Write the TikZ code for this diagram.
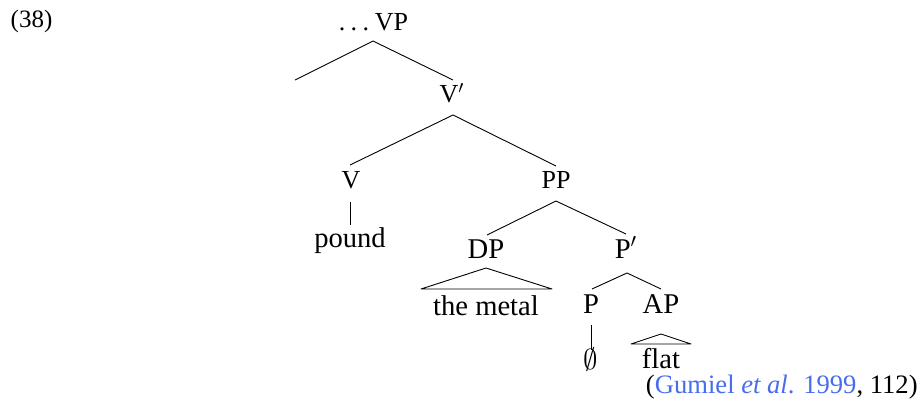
\documentclass[tikz,border=0pt]{standalone}
\usepackage{fontspec}
\setmainfont{Liberation Serif}
\definecolor{citeblue}{RGB}{72,108,238}
\newcommand\tmsfont{\fontsize{13}{15}\selectfont}
\newcommand\palfont{\fontsize{14.3}{16}\selectfont}
\newcommand\citefont{\fontsize{13.3}{15}\selectfont}
\begin{document}
\begin{tikzpicture}[x=0.5pt,y=-0.5pt,
  tms/.style={inner sep=0pt,anchor=base,font=\tmsfont},
  pal/.style={inner sep=0pt,anchor=base,font=\palfont},
  edge/.style={line width=0.45pt,line join=round}]
\useasboundingbox (0,0) rectangle (920,407);
% labels
\node[tms,font=\fontsize{12.5}{14}\selectfont] (ex) at (31.5,27) {(38)};
\node[tms] (VP) at (373.5,30) {.\kern2.7pt.\kern2.7pt.\kern2.9pt VP};
\node[tms] (Vbar) at (452,102) {V$'$};
\node[tms] (V) at (351,188) {V};
\node[tms] (PP) at (556,188) {PP};
\node[pal] (pound) at (350,247) {pound};
\node[pal] (DP) at (486,258) {DP};
\node[pal] (Pbar) at (626,258) {P$'$};
\node[pal] (metal) at (486,315) {the metal};
\node[pal] (P) at (591,313) {P};
\node[pal] (AP) at (661,313) {AP};
\node[pal] (empty) at (591,369) {$\emptyset$};
\node[pal] (flat) at (661,368) {flat};
\node[pal,font=\citefont,anchor=base east] (cite) at (918,393) {(\textcolor{citeblue}{Gumiel \textit{et al}. 1999}, 112)};
% connector end points
\coordinate (VPb) at (373,41);
\coordinate (VPl) at (295,80);
\coordinate (Vbart) at (453,80);
\coordinate (Vbarb) at (453,115);
\coordinate (Vt) at (350,165);
\coordinate (PPt) at (556,166);
\coordinate (Vb) at (350,202);
\coordinate (poundt) at (350,225);
\coordinate (PPb) at (556,201);
\coordinate (DPt) at (487,235);
\coordinate (Pbart) at (626,234);
\coordinate (DPa) at (486,268);
\coordinate (DPl) at (421,289);
\coordinate (DPr) at (552,289);
\coordinate (Pbarb) at (627,273);
\coordinate (Pt) at (592,289);
\coordinate (APt) at (661,289);
\coordinate (Pb) at (591,325);
\coordinate (emptyt) at (591,350);
\coordinate (APa) at (661,334);
\coordinate (APl) at (631,344);
\coordinate (APr) at (691,344);
% edges
\draw[edge] (VPl) -- (VPb) -- (Vbart);
\draw[edge] (Vt) -- (Vbarb) -- (PPt);
\draw[edge] (Vb) -- (poundt);
\draw[edge] (DPt) -- (PPb) -- (Pbart);
\draw[edge] (DPa) -- (DPl) -- (DPr) -- cycle;
\draw[edge] (Pt) -- (Pbarb) -- (APt);
\draw[edge] (Pb) -- (emptyt);
\draw[edge] (APa) -- (APl) -- (APr) -- cycle;
\end{tikzpicture}
\end{document}
